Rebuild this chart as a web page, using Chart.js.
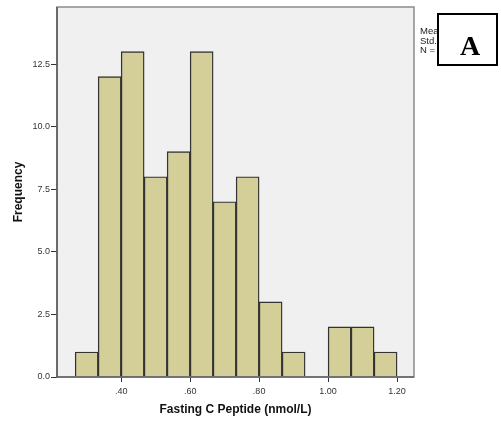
<!DOCTYPE html>
<html lang="en">
  <head>
    <meta charset="UTF-8" />
    <title>Fasting C Peptide histogram</title>
    <style>
      html, body { margin: 0; padding: 0; background: #fff; }
      #wrap { width: 501px; height: 428px; position: relative; }
    </style>
  </head>
  <body>
    <div id="wrap"><canvas id="chartJSContainer"></canvas></div>

    <script src="https://cdn.jsdelivr.net/npm/chart.js@4/dist/chart.umd.min.js"></script>
    <script>
      // histogram bins (nmol/L), bin width 1/15
      const binLow  = [0.2667, 0.3333, 0.4000, 0.4667, 0.5333, 0.6000, 0.6667, 0.7333, 0.8000, 0.8667, 0.9333, 1.0000, 1.0667, 1.1333]
      const binHigh = [0.3333, 0.4000, 0.4667, 0.5333, 0.6000, 0.6667, 0.7333, 0.8000, 0.8667, 0.9333, 1.0000, 1.0667, 1.1333, 1.2000]
      const counts  = [1, 12, 13, 8, 9, 13, 7, 8, 3, 1, 0, 2, 2, 1]

      const xTicks = [0.4, 0.6, 0.8, 1.0, 1.2]
      const yTicks = [0, 2.5, 5, 7.5, 10, 12.5]
      const statLines = ['Mean = .62', 'Std. Dev. = .191', 'N = 80']

      const points = counts.map((c, i) => ({ x: (binLow[i] + binHigh[i]) / 2, y: c }))

      const tickFont = { family: 'Liberation Sans, Arial, sans-serif', size: 9 }
      const titleFont = { family: 'Liberation Sans, Arial, sans-serif', size: 12, weight: 'bold' }

      const plotFrame = {
        id: 'plotFrame',
        beforeDraw: (chart) => {
          const { ctx, chartArea: a } = chart
          ctx.save()
          ctx.fillStyle = '#f0f0f0'
          ctx.fillRect(a.left, a.top, a.right - a.left, a.bottom - a.top)
          ctx.restore()
        },
        afterDraw: (chart) => {
          const { ctx, chartArea: a } = chart
          ctx.save()
          ctx.strokeStyle = '#8a8a8a'
          ctx.lineWidth = 1.5
          ctx.strokeRect(a.left, a.top, a.right - a.left, a.bottom - a.top)
          ctx.strokeStyle = '#444'
          ctx.lineWidth = 1.2
          ctx.beginPath()
          ctx.moveTo(a.left, a.top)
          ctx.lineTo(a.left, a.bottom)
          ctx.lineTo(a.right, a.bottom)
          ctx.stroke()

          // stats text, partly hidden by the label box
          ctx.fillStyle = '#222'
          ctx.font = '9.5px Liberation Sans, Arial, sans-serif'
          ctx.textBaseline = 'alphabetic'
          statLines.forEach((t, i) => ctx.fillText(t, 420, 34 + i * 9.5))

          // panel label box
          ctx.fillStyle = '#fff'
          ctx.fillRect(438, 14, 59, 51)
          ctx.strokeStyle = '#000'
          ctx.lineWidth = 2
          ctx.strokeRect(438, 14, 59, 51)
          ctx.fillStyle = '#000'
          ctx.font = 'bold 28px Liberation Serif, Times New Roman, serif'
          ctx.textAlign = 'center'
          ctx.fillText('A', 470, 55)
          ctx.restore()
        }
      }

      const data = {
        datasets: [{
          data: points,
          backgroundColor: '#d4cf99',
          borderColor: '#333',
          borderWidth: 1.4,
          barPercentage: 1,
          categoryPercentage: 1,
        }]
      }

      const options = {
        responsive: true,
        maintainAspectRatio: false,
        animation: false,
        layout: { padding: { top: 7, right: 87, left: 0, bottom: 0 } },
        plugins: { legend: { display: false }, tooltip: { enabled: false } },
        scales: {
          x: {
            type: 'linear',
            offset: false,
            min: 0.214,
            max: 1.249,
            afterBuildTicks: (s) => { s.ticks = xTicks.map(v => ({ value: v })) },
            afterFit: (s) => { s.height = 51 },
            ticks: {
              font: tickFont, color: '#333', padding: 4, maxRotation: 0,
              callback: (v) => v.toFixed(2).replace(/^0/, ''),
            },
            grid: { offset: false, drawOnChartArea: false, drawTicks: true, tickLength: 5, color: '#333' },
            border: { display: false },
            title: { display: true, text: 'Fasting C Peptide (nmol/L)', font: titleFont, color: '#111', padding: { bottom: 11 } },
          },
          y: {
            min: 0,
            max: 14.78,
            afterBuildTicks: (s) => { s.ticks = yTicks.map(v => ({ value: v })) },
            afterFit: (s) => { s.width = 57 },
            ticks: { font: tickFont, color: '#333', padding: 1, callback: (v) => v.toFixed(1) },
            grid: { drawOnChartArea: false, drawTicks: true, tickLength: 6, color: '#333' },
            border: { display: false },
            title: { display: true, text: 'Frequency', font: titleFont, color: '#111', padding: { top: 11 } },
          }
        }
      }

      const ctx = document.getElementById('chartJSContainer').getContext('2d')
      new Chart(ctx, { type: 'bar', data, options, plugins: [plotFrame] })
    </script>
  </body>
</html>
